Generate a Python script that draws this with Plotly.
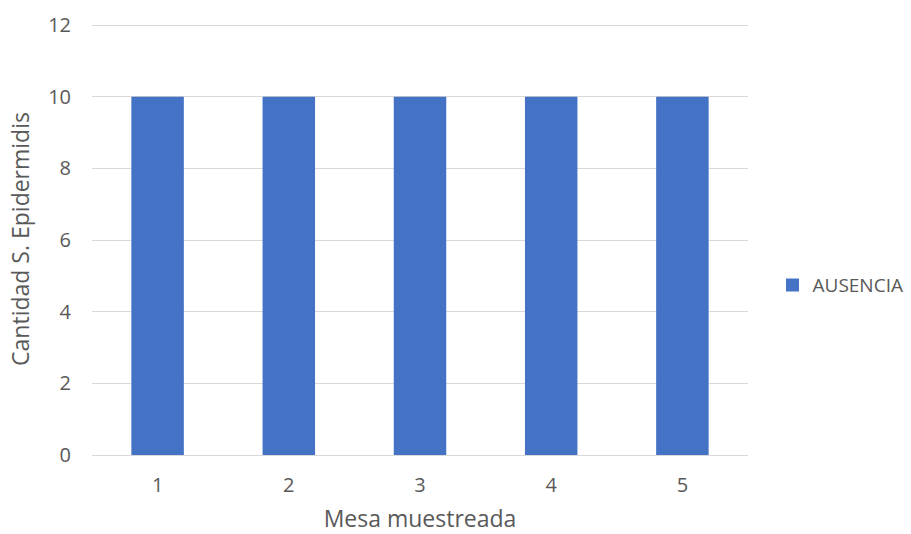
import plotly.graph_objects as go

categories = ["1", "2", "3", "4", "5"]
ausencia = [10, 10, 10, 10, 10]
y_ticks = [0, 2, 4, 6, 8, 10, 12]

fig = go.Figure()
fig.add_trace(go.Bar(x=categories, y=ausencia, name="AUSENCIA", showlegend=False,
                     marker=dict(color="#4472C4", line=dict(width=0))))
# legend entry with a larger square swatch
fig.add_trace(go.Scatter(x=[None], y=[None], mode="markers", name="AUSENCIA",
                         marker=dict(symbol="square", size=13, color="#4472C4")))

font_family = "'Open Sans', sans-serif"
fig.update_layout(
    width=911, height=534,
    margin=dict(l=92, r=163, t=23, b=79, autoexpand=False),
    paper_bgcolor="white", plot_bgcolor="white",
    bargap=0.6,
    font=dict(family=font_family, color="#595959", size=20),
    showlegend=True,
    legend=dict(xref="container", yref="container", x=0.848, y=0.466,
                xanchor="left", yanchor="middle",
                font=dict(size=19, color="#595959"), itemwidth=30,
                bgcolor="rgba(0,0,0,0)"),
    xaxis=dict(type="category", showgrid=False, showline=True, linecolor="#D9D9D9",
               linewidth=1, ticks="", tickfont=dict(size=20),
               ticklabelstandoff=12,
               title=dict(text="Mesa muestreada", font=dict(size=23), standoff=16)),
    yaxis=dict(range=[0, 12.06], tickvals=y_ticks, showgrid=True, gridcolor="#D9D9D9",
               zeroline=False, showline=False, ticks="", tickfont=dict(size=20),
               ticklabelstandoff=20,
               title=dict(text="Cantidad S. Epidermidis", font=dict(size=23), standoff=12)),
)
fig.write_html("out.html")
